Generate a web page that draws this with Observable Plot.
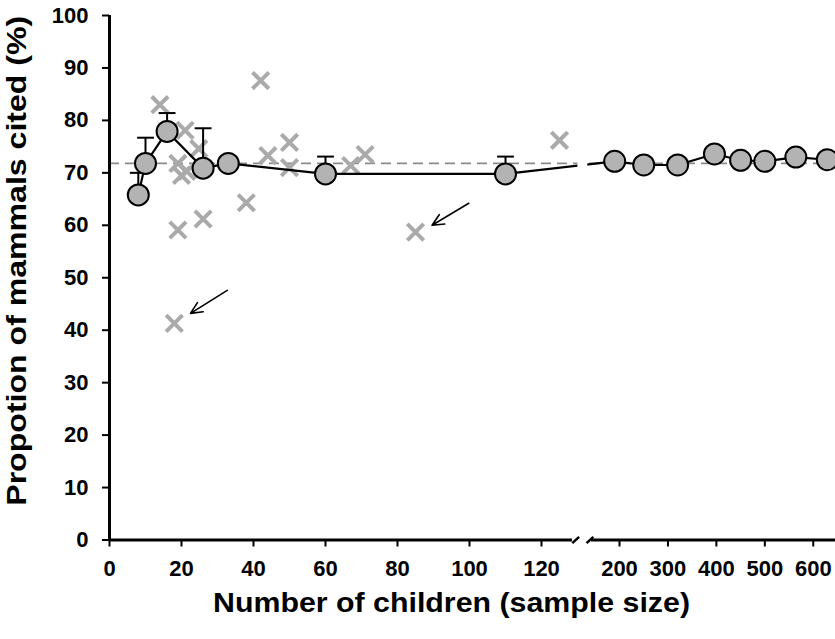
<!DOCTYPE html>
<html><head><meta charset="utf-8">
<script src="https://cdn.jsdelivr.net/npm/d3@7"></script>
<script src="https://cdn.jsdelivr.net/npm/@observablehq/plot@0.6"></script>
<style>body{margin:0;background:#fff}</style>
</head><body><div id="chart"></div>
<script>
// Mean proportion by sample size (circles)
const meanN   = [8, 10, 16, 26, 33, 60, 110, 190, 250, 320, 396, 450, 500, 564, 629];
const meanPct = [65.8, 71.8, 77.9, 70.9, 71.8, 69.8, 69.8, 72.2, 71.5, 71.5, 73.6, 72.4, 72.2, 73.0, 72.5];
const meanErr = [70.0, 76.7, 81.4, 78.5, null, 73.1, 73.1, null, null, null, null, null, null, null, null];
// Individual studies (crosses)
const studyN   = [14, 42, 21, 24.8, 19, 20, 21.5, 44, 50, 50, 38, 26, 19, 71, 67, 125, 85, 18];
const studyPct = [83.0, 87.6, 78.1, 74.6, 71.8, 69.5, 70.3, 73.3, 75.8, 71.0, 64.3, 61.2, 59.1, 73.5, 71.4, 76.2, 58.7, 41.3];
// Overall mean (dashed)
const overallMean = 71.8;
// Annotation arrows pointing at outliers
const arrowFromN = [32.7, 99.8], arrowFromPct = [47.6, 64.2];
const arrowToN   = [22.5, 89.6], arrowToPct   = [43.2, 60.0];
// Tick labels
const xTicks = [0, 20, 40, 60, 80, 100, 120, 200, 300, 400, 500, 600];
const yTicks = [0, 10, 20, 30, 40, 50, 60, 70, 80, 90, 100];
// Axis break
const breakAt = [129.5, 139];

const means = meanN.map((n, i) => ({n, pct: meanPct[i], err: meanErr[i]}));
const errs = means.filter(d => d.err != null);
const studies = studyN.map((n, i) => ({n, pct: studyPct[i]}));
const arrows = arrowFromN.map((n, i) => ({x1: n, y1: arrowFromPct[i], x2: arrowToN[i], y2: arrowToPct[i]}));

const capSymbol = {draw(ctx, size) { const w = Math.sqrt(size) / 2; ctx.moveTo(-w, 0); ctx.lineTo(w, 0); }};
const slashSymbol = {draw(ctx, size) { const r = Math.sqrt(size) / 2; ctx.moveTo(-r * 0.55, r * 0.5); ctx.lineTo(r * 0.55, -r * 0.5); }};

const font = "'Liberation Sans', Arial, Helvetica, sans-serif";

const chart = Plot.plot({
  width: 835, height: 639,
  marginLeft: 109, marginRight: 0, marginTop: 15, marginBottom: 99.5,
  style: {fontFamily: font, background: "white", color: "black", overflow: "visible"},
  x: {type: "linear", domain: [0, 130, 136, 650], range: [109, 577, 588, 837]},
  y: {domain: [0, 100]},
  marks: [
    Plot.ruleY([overallMean], {x1: 0, x2: 650, stroke: "#8a8a8a", strokeWidth: 1.6, strokeDasharray: "10,6"}),
    Plot.dot(studies, {x: "n", y: "pct", symbol: "times", r: 7.5, stroke: "#aaaaaa", strokeWidth: 4}),
    Plot.ruleX(errs, {x: "n", y1: "pct", y2: "err", stroke: "black", strokeWidth: 2}),
    Plot.dot(errs, {x: "n", y: "err", symbol: capSymbol, r: 9.5, fill: "none", stroke: "black", strokeWidth: 2}),
    Plot.line(means, {x: "n", y: "pct", stroke: "black", strokeWidth: 2.2}),
    Plot.rect([0], {x1: 130.2, x2: 135.6, y1: 66, y2: 76, fill: "white"}),
    Plot.dot(means, {x: "n", y: "pct", r: 10.5, fill: "#b3b3b3", stroke: "black", strokeWidth: 2}),
    Plot.arrow(arrows, {x1: "x1", y1: "y1", x2: "x2", y2: "y2", stroke: "black", strokeWidth: 1.6, headLength: 12, headAngle: 50}),
    // axes
    Plot.ruleX([0], {y1: 0, y2: 100, stroke: "black", strokeWidth: 3}),
    Plot.ruleY([0], {x1: 0, x2: 128.6, stroke: "black", strokeWidth: 3}),
    Plot.ruleY([0], {x1: 142, x2: 650, stroke: "black", strokeWidth: 3}),
    Plot.dot(breakAt, {x: d => d, y: 0, symbol: slashSymbol, r: 7, fill: "none", stroke: "black", strokeWidth: 2.5}),
    Plot.axisY({ticks: yTicks, tickSize: 7, tickPadding: 14, fontSize: 22, fontWeight: "bold", strokeWidth: 2, label: null, fill: "black", stroke: "black"}),
    Plot.axisX({ticks: xTicks, tickFormat: d => String(d), tickSize: 7, tickPadding: 13, fontSize: 22, fontWeight: "bold", strokeWidth: 2, label: null, fill: "black", stroke: "black"}),
    Plot.text(["Propotion of mammals cited (%)"], {className: "ytitle", frameAnchor: "left", textAnchor: "middle", lineAnchor: "middle", rotate: -90, dx: -92, dy: -17, fontSize: 27, fontWeight: "bold", fill: "black"}),
    Plot.text(["Number of children (sample size)"], {className: "xtitle", frameAnchor: "bottom", textAnchor: "middle", lineAnchor: "middle", dx: -21, dy: 63.5, fontSize: 27, fontWeight: "bold", fill: "black"})
  ]
});
d3.select(chart).select(".ytitle text").attr("textLength", 490).attr("lengthAdjust", "spacingAndGlyphs");
d3.select(chart).select(".xtitle text").attr("textLength", 477).attr("lengthAdjust", "spacingAndGlyphs");
document.getElementById("chart").appendChild(chart);
</script>
</body></html>
